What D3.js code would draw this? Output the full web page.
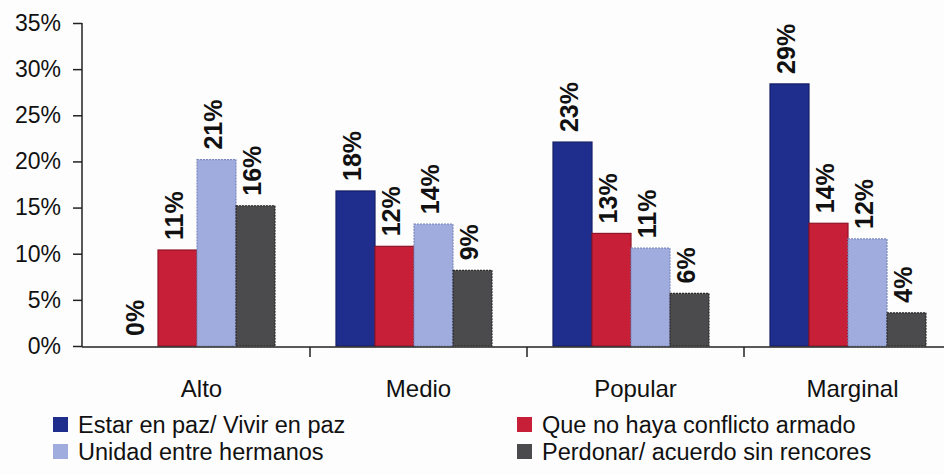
<!DOCTYPE html>
<html>
<head>
<meta charset="utf-8">
<script src="https://cdn.jsdelivr.net/npm/d3@7"></script>
<style>
  body { margin: 0; background: #fdfdfd; }
  svg { display: block; font-family: "Liberation Sans", Arial, sans-serif; }
</style>
</head>
<body>
<div id="chart"></div>
<script>
// Data (bar heights in %, printed labels kept as text)
const categories = ['Alto', 'Medio', 'Popular', 'Marginal'];
const seriesNames = [
    'Estar en paz/ Vivir en paz',
    'Que no haya conflicto armado',
    'Unidad entre hermanos',
    'Perdonar/ acuerdo sin rencores'
];
const pazValues = [0, 16.8, 22.1, 28.4];
const conflictoValues = [10.4, 10.8, 12.2, 13.3];
const unidadValues = [20.2, 13.2, 10.6, 11.6];
const perdonarValues = [15.2, 8.2, 5.7, 3.6];
const pazLabels = ['0%', '18%', '23%', '29%'];
const conflictoLabels = ['11%', '12%', '13%', '14%'];
const unidadLabels = ['21%', '14%', '11%', '12%'];
const perdonarLabels = ['16%', '9%', '6%', '4%'];
const yTicks = [0, 5, 10, 15, 20, 25, 30, 35];

const seriesValues = [pazValues, conflictoValues, unidadValues, perdonarValues];
const seriesLabels = [pazLabels, conflictoLabels, unidadLabels, perdonarLabels];
const colors = ['#1f2e8c', '#c81f38', '#a0acde', '#4b4b4d'];
const strokes = ['#141f66', '#8e1427', '#7d89bd', '#2a2a2a'];

const width = 944, height = 475;

const svg = d3.select('#chart')
    .append('svg')
    .attr('width', width)
    .attr('height', height);

// Scales
const x0 = d3.scaleBand().domain(categories).range([93, 961]).paddingInner(0).paddingOuter(0);
const x1 = d3.scaleBand().domain(d3.range(seriesNames.length)).range([26, 182]);
const y = d3.scaleLinear().domain([0, 35]).range([346, 23]);

// Bars
const groups = svg.selectAll('.grp')
    .data(categories)
    .enter().append('g')
    .attr('class', 'grp')
    .attr('transform', d => 'translate(' + x0(d) + ',0)');

const cells = (c, ci) => seriesValues.map((vals, si) => ({ si: si, v: vals[ci], label: seriesLabels[si][ci] }));

groups.selectAll('rect')
    .data(cells)
    .enter().append('rect')
    .attr('x', d => x1(d.si))
    .attr('y', d => y(d.v))
    .attr('width', x1.bandwidth())
    .attr('height', d => y(0) - y(d.v))
    .attr('fill', d => colors[d.si])
    .attr('stroke', d => d.v > 0 ? strokes[d.si] : 'none')
    .attr('stroke-width', 1.2)
    .attr('stroke-dasharray', d => d.si >= 2 ? '2,1' : null);

// Value labels (rotated)
groups.selectAll('text.val')
    .data(cells)
    .enter().append('text')
    .attr('class', 'val')
    .attr('transform', d => 'translate(' + (x1(d.si) + x1.bandwidth() / 2) + ',' + (y(d.v) - 10) + ') rotate(-90)')
    .attr('dy', '0.2em')
    .attr('text-anchor', 'start')
    .attr('font-size', 25)
    .attr('font-weight', 'bold')
    .attr('fill', '#111')
    .text(d => d.label);

// Y axis
const yAxis = svg.append('g')
    .attr('transform', 'translate(82,0)')
    .call(d3.axisLeft(y).tickValues(yTicks).tickSize(9).tickSizeOuter(0).tickPadding(12).tickFormat(d => d + '%'));
yAxis.selectAll('text').attr('font-size', 23).attr('fill', '#111');
yAxis.selectAll('line, path').attr('stroke', '#222').attr('stroke-width', 1.5);
yAxis.select('.domain').attr('d', 'M0,' + y(35) + 'V' + (y(0) + 1));

// X axis baseline and category separators
svg.append('line')
    .attr('x1', 82).attr('x2', width)
    .attr('y1', y(0) + 1).attr('y2', y(0) + 1)
    .attr('stroke', '#222').attr('stroke-width', 1.5);

svg.selectAll('.xtick')
    .data(categories.slice(1))
    .enter().append('line')
    .attr('class', 'xtick')
    .attr('x1', d => x0(d)).attr('x2', d => x0(d))
    .attr('y1', y(0) + 1).attr('y2', y(0) + 11)
    .attr('stroke', '#222').attr('stroke-width', 1.5);

svg.selectAll('.cat')
    .data(categories)
    .enter().append('text')
    .attr('class', 'cat')
    .attr('x', d => x0(d) + x0.bandwidth() / 2)
    .attr('y', 397)
    .attr('text-anchor', 'middle')
    .attr('font-size', 24)
    .attr('fill', '#111')
    .text(d => d);

// Legend: two columns, two rows
const legendPos = [[53, 433], [517, 433], [53, 460], [517, 460]];
const legend = svg.selectAll('.leg')
    .data(seriesNames)
    .enter().append('g')
    .attr('class', 'leg')
    .attr('transform', (d, i) => 'translate(' + legendPos[i][0] + ',' + legendPos[i][1] + ')');

legend.append('rect')
    .attr('x', 0).attr('y', -16)
    .attr('width', 15).attr('height', 15)
    .attr('fill', (d, i) => colors[i]);

legend.append('text')
    .attr('x', 25)
    .attr('y', 0)
    .attr('font-size', 23.5)
    .attr('fill', '#111')
    .text(d => d);
</script>
</body>
</html>
